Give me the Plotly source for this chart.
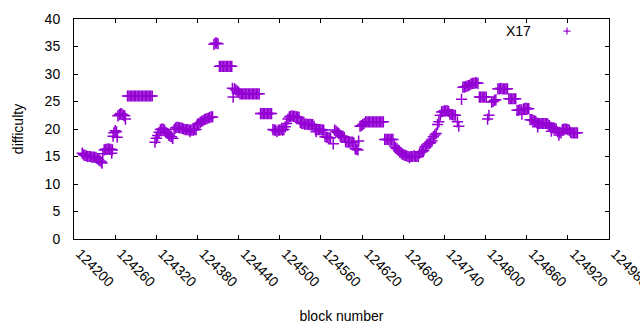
import plotly.graph_objects as go

blocks = [
    124212, 124214, 124216, 124218, 124220, 124222, 124224, 124226, 124228, 124230, 124232, 124234,
    124236, 124238, 124240, 124241, 124242,
    124244, 124246, 124248, 124250, 124252, 124254, 124255, 124256,
    124257, 124258, 124260, 124262, 124263,
    124264, 124266, 124268, 124270, 124272, 124274, 124275,
    124278, 124280, 124282, 124284, 124286, 124288, 124290, 124292, 124294, 124296,
    124298, 124300, 124302, 124304, 124306, 124308, 124310, 124312, 124314,
    124318, 124320, 124322, 124324, 124326, 124328, 124330, 124332,
    124334, 124336, 124338, 124340, 124342, 124344,
    124346, 124348, 124350, 124352, 124354, 124356, 124358,
    124360, 124362, 124364, 124366, 124368, 124369, 124370, 124372, 124374, 124376, 124378,
    124380, 124382, 124384, 124386, 124388, 124390,
    124392, 124394, 124396, 124398, 124400, 124402,
    124404, 124406, 124408, 124410,
    124412, 124414, 124416, 124418, 124420, 124422, 124424, 124426, 124428, 124430,
    124431, 124432,
    124434, 124436, 124438, 124440,
    124442, 124444, 124446, 124448, 124450, 124452, 124454, 124456, 124458, 124460,
    124462, 124464, 124466, 124468, 124470,
    124472, 124474, 124476, 124478, 124480, 124482, 124484, 124486, 124488,
    124490, 124492, 124494, 124496, 124498, 124500, 124502, 124504, 124506,
    124508, 124510, 124512,
    124514, 124516, 124518, 124520, 124522, 124524, 124526, 124528,
    124530, 124532, 124534, 124536, 124538, 124540, 124542, 124544, 124546, 124548, 124550,
    124552, 124553, 124554, 124556, 124558, 124560, 124562, 124564,
    124566, 124568, 124570, 124572, 124574, 124578,
    124580, 124582, 124584, 124586,
    124588, 124590, 124592, 124594,
    124596, 124598, 124600, 124602, 124604, 124606, 124608,
    124610, 124612, 124614, 124615,
    124617, 124619, 124621, 124623,
    124625, 124627, 124629, 124631, 124633, 124635, 124637, 124639, 124641, 124643,
    124645, 124647, 124649, 124651,
    124653, 124655, 124657, 124659, 124661, 124663, 124665,
    124667, 124669, 124671, 124673, 124675,
    124677, 124679, 124681, 124683, 124685, 124687,
    124689, 124690, 124692, 124694, 124696, 124698, 124700, 124702,
    124704, 124706, 124708, 124710,
    124712, 124714, 124716, 124718, 124720, 124722,
    124724, 124726, 124728,
    124730, 124732,
    124734,
    124736, 124738, 124740, 124742, 124744, 124746,
    124748, 124750, 124752, 124754, 124756,
    124759, 124761,
    124765,
    124767, 124769, 124771, 124773, 124775, 124777,
    124779, 124781, 124783, 124785, 124787, 124789,
    124791, 124793, 124795, 124797, 124799, 124801,
    124803, 124805,
    124809, 124811, 124813, 124815,
    124818, 124820, 124822, 124824, 124826, 124828, 124830, 124832,
    124834, 124836, 124838, 124840, 124842, 124844,
    124846, 124848, 124850, 124852, 124853,
    124855, 124857, 124859, 124861, 124863,
    124865, 124867, 124869, 124871, 124873,
    124875, 124876, 124877, 124879, 124881, 124883, 124885, 124887, 124889, 124891, 124893,
    124895, 124896, 124897, 124899, 124901, 124903,
    124905, 124907, 124908, 124910,
    124912, 124914, 124916, 124918, 124920, 124922,
    124924, 124926, 124928, 124930, 124932, 124934,
]

difficulty = [
    15.6, 15.3, 15.2, 15.1, 15.0, 15.0, 15.0, 14.9, 14.9, 14.9, 14.8, 14.6,
    14.4, 14.2, 14.0, 13.8, 15.5,
    16.2, 16.3, 16.3, 16.4, 16.3, 16.3, 15.6, 16.2,
    18.7, 19.3, 19.7, 19.5, 18.5,
    22.4, 22.6, 22.8, 22.7, 22.5, 22.4, 21.8,
    26.0, 26.0, 26.0, 26.0, 26.0, 26.0, 26.0, 26.0, 26.0, 26.0,
    26.0, 26.0, 26.0, 26.0, 26.0, 26.0, 26.0, 26.0, 26.0,
    17.6, 18.3, 18.8, 19.4, 19.9, 20.0, 20.0, 19.8,
    19.4, 19.2, 18.9, 18.7, 18.6, 18.3,
    19.9, 20.2, 20.3, 20.3, 20.2, 20.2, 20.1,
    20.0, 19.9, 19.9, 19.9, 19.8, 19.5, 19.8, 19.8, 19.8, 19.9, 19.9,
    20.9, 21.0, 21.2, 21.4, 21.5, 21.7,
    21.8, 21.9, 22.0, 22.1, 22.2, 22.2,
    35.4, 35.6, 35.6, 35.5,
    31.4, 31.4, 31.4, 31.4, 31.4, 31.4, 31.4, 31.4, 31.4, 31.4,
    27.4, 25.8,
    27.3, 27.1, 26.9, 26.7,
    26.4, 26.4, 26.4, 26.4, 26.4, 26.4, 26.4, 26.4, 26.4, 26.4,
    26.4, 26.4, 26.4, 26.4, 26.4,
    22.8, 22.8, 22.8, 22.8, 22.8, 22.8, 22.8, 22.8, 22.8,
    19.9, 19.8, 19.8, 19.5, 19.8, 19.8, 19.9, 19.8, 19.9,
    20.4, 21.0, 21.8,
    22.2, 22.3, 22.4, 22.3, 22.3, 22.2, 22.2, 22.1,
    21.2, 21.0, 21.0, 20.9, 20.9, 20.9, 20.8, 20.9, 20.8, 20.8, 20.5,
    19.9, 19.5, 19.9, 19.9, 19.9, 19.9, 19.8, 19.8,
    18.6, 18.5, 18.5, 18.4, 18.4, 17.3,
    19.8, 19.6, 19.4, 19.2,
    18.8, 18.7, 18.7, 18.5,
    17.7, 17.6, 17.6, 17.6, 17.6, 17.6, 17.5,
    16.4, 16.3, 16.2, 17.8,
    20.5, 20.6, 20.8, 21.0,
    21.3, 21.3, 21.3, 21.3, 21.3, 21.3, 21.3, 21.3, 21.3, 21.3,
    21.3, 21.3, 21.3, 21.3,
    18.1, 18.1, 18.1, 18.1, 18.1, 18.1, 18.1,
    16.9, 16.6, 16.4, 16.1, 15.8,
    15.6, 15.4, 15.3, 15.2, 15.1, 15.0,
    14.8, 15.0, 15.0, 15.0, 15.1, 15.0, 15.0, 15.0,
    15.6, 15.8, 15.9, 16.1,
    16.8, 17.1, 17.3, 17.4, 17.5, 17.8,
    18.6, 18.9, 19.2,
    20.8, 21.3,
    22.5,
    23.1, 23.2, 23.3, 23.3, 23.3, 23.2,
    22.7, 22.6, 22.6, 22.5, 22.5,
    21.3, 20.5,
    25.4,
    27.6, 27.6, 27.7, 27.8, 27.9, 28.0,
    28.2, 28.3, 28.3, 28.4, 28.4, 28.3,
    25.8, 25.8, 25.8, 25.8, 25.8, 25.8,
    21.8, 22.5,
    24.9, 25.0, 25.2, 25.3,
    27.3, 27.3, 27.4, 27.3, 27.3, 27.3, 27.3, 27.3,
    25.5, 25.5, 25.5, 25.5, 25.5, 25.5,
    23.4, 23.4, 23.5, 23.5, 22.7,
    23.6, 23.7, 23.8, 23.7, 23.7,
    21.7, 21.7, 21.6, 21.5, 21.4,
    21.1, 20.4, 21.0, 21.0, 21.0, 21.0, 21.0, 21.0, 21.0, 20.9, 20.6,
    20.3, 19.6, 20.2, 20.2, 20.1, 20.0,
    19.5, 18.9, 19.4, 19.3,
    19.9, 20.0, 20.0, 20.0, 19.9, 19.8,
    19.4, 19.3, 19.3, 19.3, 19.3, 19.3,
]

series_name = "X17"
x_ticks = [124200, 124260, 124320, 124380, 124440, 124500, 124560,
           124620, 124680, 124740, 124800, 124860, 124920, 124980]
y_ticks = [0, 5, 10, 15, 20, 25, 30, 35, 40]

color = "#9400D3"
font = dict(family="Liberation Sans, Arial, sans-serif", size=14, color="black")

fig = go.Figure()
fig.add_trace(go.Scatter(
    x=blocks, y=difficulty, mode="markers", name=series_name,
    marker=dict(symbol="cross-thin", size=8, line=dict(width=1.5, color=color), color=color),
    showlegend=False, cliponaxis=False,
))

# key (gnuplot style: text then sample)
fig.add_annotation(xref="paper", yref="paper", x=0.858, y=0.945, text=series_name,
                   showarrow=False, xanchor="right", yanchor="middle", font=font)
cx, cy = 0.9215, 0.945
fig.add_shape(type="line", xref="paper", yref="paper", x0=cx - 3.5 / 535, x1=cx + 3.5 / 535,
              y0=cy, y1=cy, line=dict(color=color, width=1.2))
fig.add_shape(type="line", xref="paper", yref="paper", x0=cx, x1=cx,
              y0=cy - 3.5 / 220, y1=cy + 3.5 / 220, line=dict(color=color, width=1.2))

axis_common = dict(showline=True, linecolor="black", linewidth=1, mirror="ticks",
                   ticks="inside", ticklen=4, tickcolor="black", showgrid=False,
                   zeroline=False, tickfont=font, automargin=False,
                   ticklabeloverflow="allow")

fig.update_xaxes(range=[124200, 124980], tickvals=x_ticks, ticktext=[str(v) for v in x_ticks],
                 tickangle=45, ticklabelshift=6,
                 title=dict(text="block number", font=font, standoff=22),
                 **axis_common)
fig.update_yaxes(range=[0, 40], tickvals=y_ticks, ticklabelstandoff=10,
                 title=dict(text="difficulty", font=font, standoff=17), **axis_common)

fig.update_layout(width=640, height=330, margin=dict(l=74, r=31, t=19, b=91),
                  plot_bgcolor="white", paper_bgcolor="white", font=font)

fig.write_html("out.html", config={"displayModeBar": False},
               post_script="document.body.style.margin='0';document.body.style.overflow='hidden';")
